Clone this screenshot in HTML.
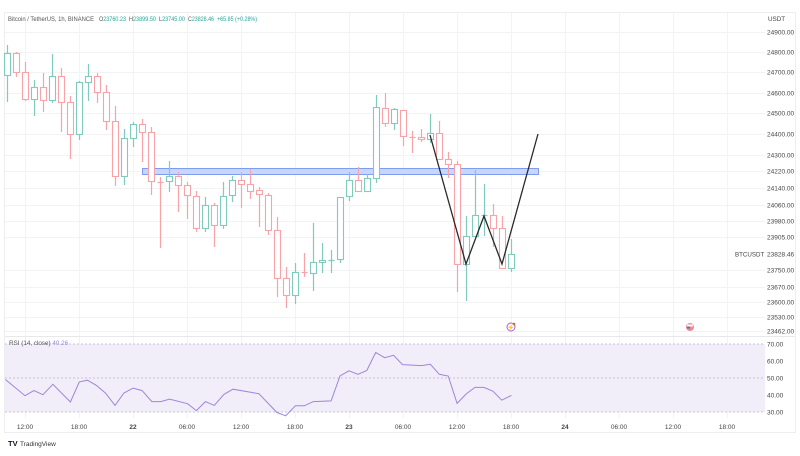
<!DOCTYPE html>
<html><head><meta charset="utf-8"><style>
html,body{margin:0;padding:0;background:#fff;}
body{width:800px;height:451px;overflow:hidden;font-family:"Liberation Sans",sans-serif;}
svg text{font-family:"Liberation Sans",sans-serif;}
</style></head><body>
<svg id="s" width="800" height="451" xmlns="http://www.w3.org/2000/svg">
<rect x="4.5" y="12.5" width="791" height="420" fill="#fff" stroke="#eceef2"/>
<g id="grid" stroke="#f3f3f5" stroke-width="1"></g>
<rect x="5" y="344" width="760" height="68" fill="#f1eefa"/>
<line x1="5" y1="336.5" x2="795" y2="336.5" stroke="#e6e8ec"/>
<g stroke="#b9b2cc" stroke-width="0.8" stroke-dasharray="2,2">
<line x1="5" y1="344" x2="765" y2="344"/><line x1="5" y1="378" x2="765" y2="378"/><line x1="5" y1="412" x2="765" y2="412"/>
</g>
<rect x="142.5" y="168.5" width="396" height="6" fill="#c9d6fb" stroke="#7f9cf3" stroke-width="1"/>
<g id="candles"></g>
<polyline points="430,135 466,264 484,216 502,264 538,134" fill="none" stroke="#2a2a2a" stroke-width="1.3"/>
<polyline id="rsi" fill="none" stroke="#9d86d6" stroke-width="1"/>
<g font-size="6.3" fill="#131722">
<text x="8" y="21" fill="#555" textLength="86" lengthAdjust="spacingAndGlyphs">Bitcoin / TetherUS, 1h, BINANCE</text>
<text x="99" y="21" fill="#555" textLength="27" lengthAdjust="spacingAndGlyphs">O<tspan fill="#26a69a">23760.23</tspan></text>
<text x="129" y="21" fill="#555" textLength="27" lengthAdjust="spacingAndGlyphs">H<tspan fill="#26a69a">23899.50</tspan></text>
<text x="159" y="21" fill="#555" textLength="26" lengthAdjust="spacingAndGlyphs">L<tspan fill="#26a69a">23745.00</tspan></text>
<text x="188" y="21" fill="#555" textLength="26" lengthAdjust="spacingAndGlyphs">C<tspan fill="#26a69a">23828.46</tspan></text>
<text x="217" y="21" fill="#26a69a" textLength="40" lengthAdjust="spacingAndGlyphs">+65.85 (+0.28%)</text>
<text x="9" y="345" fill="#555">RSI (14, close) <tspan fill="#9d86d6">40.26</tspan></text>
<text x="768" y="21" fill="#444">USDT</text>
<text x="735" y="256.5" fill="#444" font-size="6.2">BTCUSDT</text>
</g>
<g id="plabels" font-size="6.5" fill="#444"></g>
<g id="tlabels" font-size="6.5" fill="#444" text-anchor="middle"></g>
<circle cx="511" cy="327" r="4" fill="#fff" stroke="#b05fd0" stroke-width="1"/>
<text x="511" y="329.5" font-size="6" fill="#b05fd0" text-anchor="middle">⚡</text>
<circle cx="514" cy="324" r="1.2" fill="#f05050"/>
<circle cx="690" cy="327" r="4" fill="#f08a8a"/>
<rect x="687" y="324.5" width="6" height="2" fill="#fff"/><rect x="687" y="326.5" width="3" height="2" fill="#3b78d8"/>
<text x="8" y="446" font-size="7.5" font-weight="bold" fill="#131722">TV</text>
<text x="20" y="446" font-size="6.5" fill="#333">TradingView</text>
</svg>
<script>
var NS="http://www.w3.org/2000/svg";
function el(p,t,a,txt){var e=document.createElementNS(NS,t);for(var k in a)e.setAttribute(k,a[k]);if(txt)e.textContent=txt;p.appendChild(e);return e;}
var grid=document.getElementById('grid');
var P=[[24900,32],[24800,52],[24700,72],[24600,93],[24500,113],[24400,134],[24300,155],[24220,171],[24140,188],[24060,205],[23980,221],[23905,237],[23828.46,254],[23750,270],[23670,287],[23600,302],[23530,317],[23462,331]];
var pl=document.getElementById('plabels');
P.forEach(function(p){ if(p[0]!==23828.46) el(grid,'line',{x1:5,x2:765,y1:p[1]+0.5,y2:p[1]+0.5}); el(pl,'text',{x:767,y:p[1]+2.5},p[0].toFixed(2));});
[[70,344],[60,361],[50,378],[40,395],[30,412]].forEach(function(p){el(pl,'text',{x:767,y:p[1]+2.5},p[0].toFixed(2));});
var T=["12:00","18:00","22","06:00","12:00","18:00","23","06:00","12:00","18:00","24","06:00","12:00","18:00"];
var tl=document.getElementById('tlabels');
T.forEach(function(t,i){var x=25+54*i;el(grid,'line',{x1:x+0.5,x2:x+0.5,y1:13,y2:418});var e=el(tl,'text',{x:x,y:429},t);if(t.length==2)e.setAttribute('font-weight','bold');});
var C=[[53,75,45,102,'g'],[53,72,52,77,'r'],[72,99,62,101,'r'],[87,99,80,116,'g'],[87,100,73,112,'r'],[76,100,54,103,'g'],[76,102,68,132,'r'],[102,134,96,159,'r'],[82,134,81,140,'g'],[76,82,64,101,'g'],[76,92,73,103,'r'],[92,121,85,130,'r'],[121,176,106,186,'r'],[138,176,129,185,'g'],[124,138,122,147,'g'],[124,132,119,162,'r'],[132,181,127,195,'r'],[182,182,177,248,'r'],[176,181,161,192,'g'],[176,185,172,212,'r'],[185,195,182,219,'r'],[196,228,191,232,'r'],[205,228,197,232,'g'],[205,225,203,247,'r'],[196,225,182,229,'g'],[180,195,176,202,'g'],[180,184,172,208,'r'],[184,191,169,199,'r'],[190,194,187,227,'r'],[195,230,193,235,'r'],[230,278,217,297,'r'],[278,295,267,308,'r'],[272,295,263,304,'g'],[272,273,253,277,'r'],[262,273,223,291,'g'],[260,262,243,273,'g'],[260,260,250,273,'g'],[197,259,197,263,'g'],[180,196,172,201,'g'],[180,191,167,191,'r'],[178,191,174,191,'g'],[107,178,95,183,'g'],[108,123,93,127,'r'],[109,123,108,130,'g'],[110,136,110,146,'r'],[137,137,131,153,'r'],[137,139,129,142,'r'],[133,139,114,143,'g'],[133,159,121,159,'r'],[159,164,152,178,'r'],[164,264,161,292,'r'],[236,264,216,301,'g'],[215,236,170,236,'g'],[215,216,184,236,'g'],[215,228,204,247,'r'],[228,268,216,268,'r'],[254,268,239,272,'g']];
var cg=document.getElementById('candles');
C.forEach(function(c,i){var x=7+9*i;var col=c[4]=='g'?'#80cbbb':'#f7a3a8';
el(cg,'line',{x1:x+0.5,x2:x+0.5,y1:c[2],y2:c[3],stroke:col,'stroke-width':1.2});
var h=Math.max(c[1]-c[0],1);
if(h<=1){el(cg,'line',{x1:x-2.5,x2:x+3.5,y1:c[0]+0.5,y2:c[0]+0.5,stroke:col,'stroke-width':1.2});}
else el(cg,'rect',{x:x-2.5,y:c[0]+0.5,width:6,height:h,fill:'#fff',stroke:col,'stroke-width':1.1});});
var R=[[15,143],[70,190],[95,175],[120,187],[148,157],[197,208],[222,150],[245,145],[270,160],[295,182],[322,218],[347,182],[373,168],[398,175],[425,207],[450,207],[475,200],[525,213],[550,233],[575,207],[600,218],[627,186],[652,171],[725,184],[775,238],[800,248],[827,219],[852,219],[877,207],[927,205],[952,133],[977,118],[1002,128],[1027,117],[1052,65],[1077,80],[1102,73],[1127,100],[1180,103],[1205,99],[1230,128],[1255,133],[1280,212],[1305,185],[1330,166],[1355,166],[1380,177],[1405,203],[1432,189]];
document.getElementById('rsi').setAttribute('points',R.map(function(p){return (p[0]/2.8).toFixed(1)+','+(330+p[1]/2.89).toFixed(1);}).join(' '));
</script>
</body></html>
